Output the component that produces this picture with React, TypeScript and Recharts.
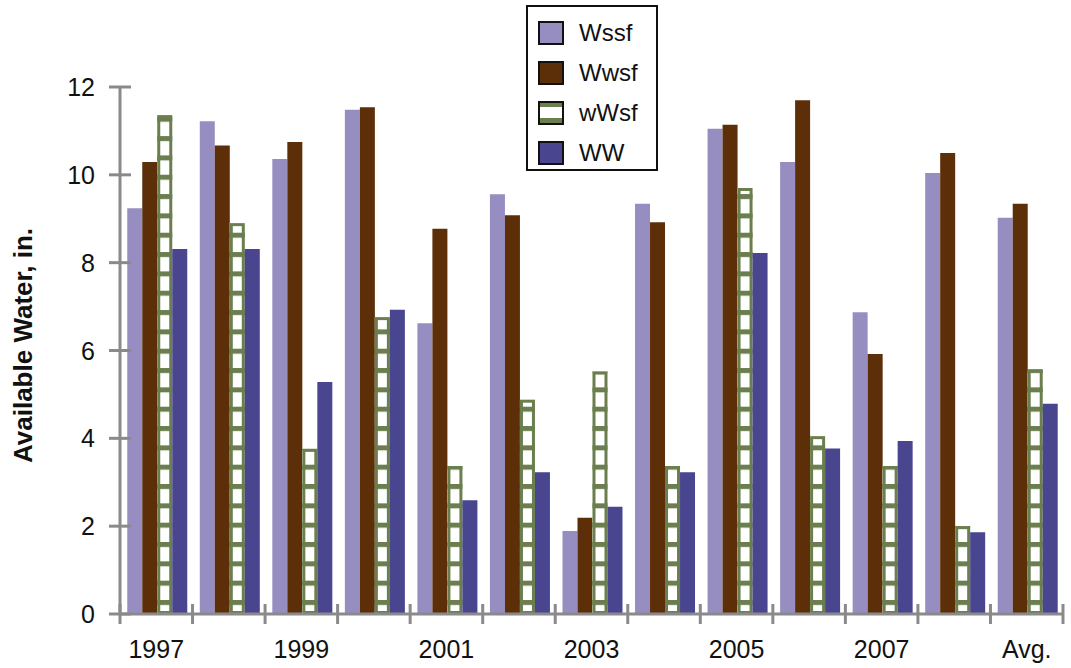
import React from "react";
import {
  BarChart,
  Bar,
  XAxis,
  YAxis,
  Legend,
  Label,
} from "recharts";

const years = ["1997", "1998", "1999", "2000", "2001", "2002", "2003", "2004", "2005", "2006", "2007", "2008", "Avg."];
const wssf = [9.24, 11.22, 10.36, 11.48, 6.62, 9.56, 1.89, 9.34, 11.05, 10.29, 6.87, 10.04, 9.02];
const wwsf = [10.29, 10.67, 10.75, 11.54, 8.77, 9.08, 2.19, 8.92, 11.14, 11.7, 5.92, 10.5, 9.34];
const wWsf = [11.36, 8.9, 3.76, 6.76, 3.37, 4.88, 5.52, 3.37, 9.7, 4.05, 3.37, 2.0, 5.57];
const ww = [8.31, 8.31, 5.28, 6.93, 2.59, 3.23, 2.44, 3.23, 8.22, 3.77, 3.94, 1.86, 4.79];
const yTicks = [0, 2, 4, 6, 8, 10, 12];

const data = years.map((year, i) => ({
  year,
  Wssf: wssf[i],
  Wwsf: wwsf[i],
  wWsf: wWsf[i],
  WW: ww[i],
}));

const FONT = "'Liberation Sans', Arial, Helvetica, sans-serif";
const AXIS = "#8a8a8c";
const C_WSSF = "#968ec1";
const C_WWSF = "#5c2f08";
const C_GREEN = "#6a7e4e";
const C_WW = "#49458f";

const W = 1071;
const H = 668;
const TOP = 87;
const X_AXIS_H = 54;
const PLOT_BOTTOM = H - X_AXIS_H;

const Y_TICK_SIZE = 10;
const Y_TICK_MARGIN = 15;
const X_TICK_SIZE = 10;
const X_TICK_MARGIN = 16;

// y tick: crosses the axis line, label on the left
const YTick = (props: any) => {
  const { x, y, payload } = props;
  const ax = x + Y_TICK_SIZE + Y_TICK_MARGIN;
  return (
    <g>
      <line x1={ax - 11} x2={ax + 11} y1={y} y2={y} stroke={AXIS} strokeWidth={3} />
      <text x={x} y={y} dy="0.36em" textAnchor="end" fontSize={25} fill="#111" fontFamily={FONT}>
        {payload.value}
      </text>
    </g>
  );
};

// x tick: marks at the category boundaries, label on every other year
const XTick = (props: any) => {
  const { x, y, payload, index } = props;
  const half = typeof payload.offset === "number" && payload.offset > 0
    ? payload.offset
    : props.width / years.length / 2;
  const ay = y - X_TICK_SIZE - X_TICK_MARGIN;
  const last = index === years.length - 1;
  return (
    <g>
      <line x1={x - half} x2={x - half} y1={ay - 10} y2={ay + 10} stroke={AXIS} strokeWidth={3} />
      {last && (
        <line x1={x + half} x2={x + half} y1={ay - 10} y2={ay + 10} stroke={AXIS} strokeWidth={3} />
      )}
      {index % 2 === 0 && (
        <text x={x} y={y} dy="0.71em" textAnchor="middle" fontSize={25} fill="#111" fontFamily={FONT}>
          {payload.value}
        </text>
      )}
    </g>
  );
};

// hatched bar: white with green ladder rungs and a green outline
const LadderBar = (props: any) => {
  const { x, y, width, height } = props;
  if (!height || height <= 0) return null;
  return (
    <g>
      <rect x={x} y={y} width={width} height={height} fill="url(#ladder)" />
      <rect
        x={x + 1.5}
        y={y + 1.5}
        width={Math.max(width - 3, 0)}
        height={Math.max(height - 3, 0)}
        fill="none"
        stroke={C_GREEN}
        strokeWidth={3}
      />
    </g>
  );
};

const legendItems = [
  { name: "Wssf", color: C_WSSF },
  { name: "Wwsf", color: C_WWSF },
  { name: "wWsf", color: "ladder" },
  { name: "WW", color: C_WW },
];

const LegendBox = () => (
  <div
    style={{
      width: 132,
      height: 166,
      boxSizing: "border-box",
      border: "2px solid #111",
      background: "#fff",
      paddingTop: 6,
      paddingLeft: 10,
      fontFamily: FONT,
    }}
  >
    {legendItems.map((it) => (
      <div key={it.name} style={{ display: "flex", alignItems: "center", height: 40 }}>
        <div
          style={{
            width: 26,
            height: 24,
            boxSizing: "border-box",
            border: "2px solid #111",
            background:
              it.color === "ladder"
                ? `linear-gradient(to bottom, ${C_GREEN} 0, ${C_GREEN} 4px, #fff 4px, #fff 15px, ${C_GREEN} 15px)`
                : it.color,
          }}
        />
        <span style={{ marginLeft: 15, fontSize: 24, color: "#111" }}>{it.name}</span>
      </div>
    ))}
  </div>
);

export default function App() {
  return (
    <div style={{ position: "absolute", left: 0, top: 0, width: W, height: H, background: "#fff" }}>
      <BarChart
        width={W}
        height={H}
        data={data}
        margin={{ top: TOP, right: 8, bottom: 0, left: 0 }}
        barCategoryGap="10%"
        barGap={0}
      >
        <defs>
          <pattern
            id="ladder"
            patternUnits="userSpaceOnUse"
            x={0}
            y={PLOT_BOTTOM - 14}
            width={20}
            height={19.33}
          >
            <rect x={0} y={0} width={20} height={19.33} fill="#fff" />
            <rect x={0} y={0} width={20} height={5} fill={C_GREEN} />
          </pattern>
        </defs>
        <XAxis
          dataKey="year"
          interval={0}
          height={X_AXIS_H}
          tickLine={false}
          tickSize={X_TICK_SIZE}
          tickMargin={X_TICK_MARGIN}
          axisLine={{ stroke: AXIS, strokeWidth: 3 }}
          tick={<XTick />}
        />
        <YAxis
          domain={[0, 12]}
          ticks={yTicks}
          width={120}
          tickLine={false}
          tickSize={Y_TICK_SIZE}
          tickMargin={Y_TICK_MARGIN}
          axisLine={{ stroke: AXIS, strokeWidth: 3 }}
          tick={<YTick />}
        >
          <Label
            content={(p: any) => {
              const vb = p.viewBox || { x: 0, y: TOP, width: 120, height: PLOT_BOTTOM - TOP };
              const cx = vb.x + 23;
              const cy = vb.y + vb.height / 2 - 5;
              return (
                <text
                  x={cx}
                  y={cy}
                  transform={`rotate(-90 ${cx} ${cy})`}
                  textAnchor="middle"
                  dominantBaseline="central"
                  fontSize={26}
                  fontWeight="bold"
                  fill="#111"
                  fontFamily={FONT}
                >
                  Available Water, in.
                </text>
              );
            }}
          />
        </YAxis>
        <Legend
          layout="vertical"
          align="center"
          verticalAlign="middle"
          content={() => <LegendBox />}
          wrapperStyle={{ left: 526, top: 5, width: 132, height: 166 }}
        />
        <Bar dataKey="Wssf" fill={C_WSSF} isAnimationActive={false} />
        <Bar dataKey="Wwsf" fill={C_WWSF} isAnimationActive={false} />
        <Bar dataKey="wWsf" fill={C_GREEN} shape={<LadderBar />} isAnimationActive={false} />
        <Bar dataKey="WW" fill={C_WW} isAnimationActive={false} />
      </BarChart>
    </div>
  );
}
